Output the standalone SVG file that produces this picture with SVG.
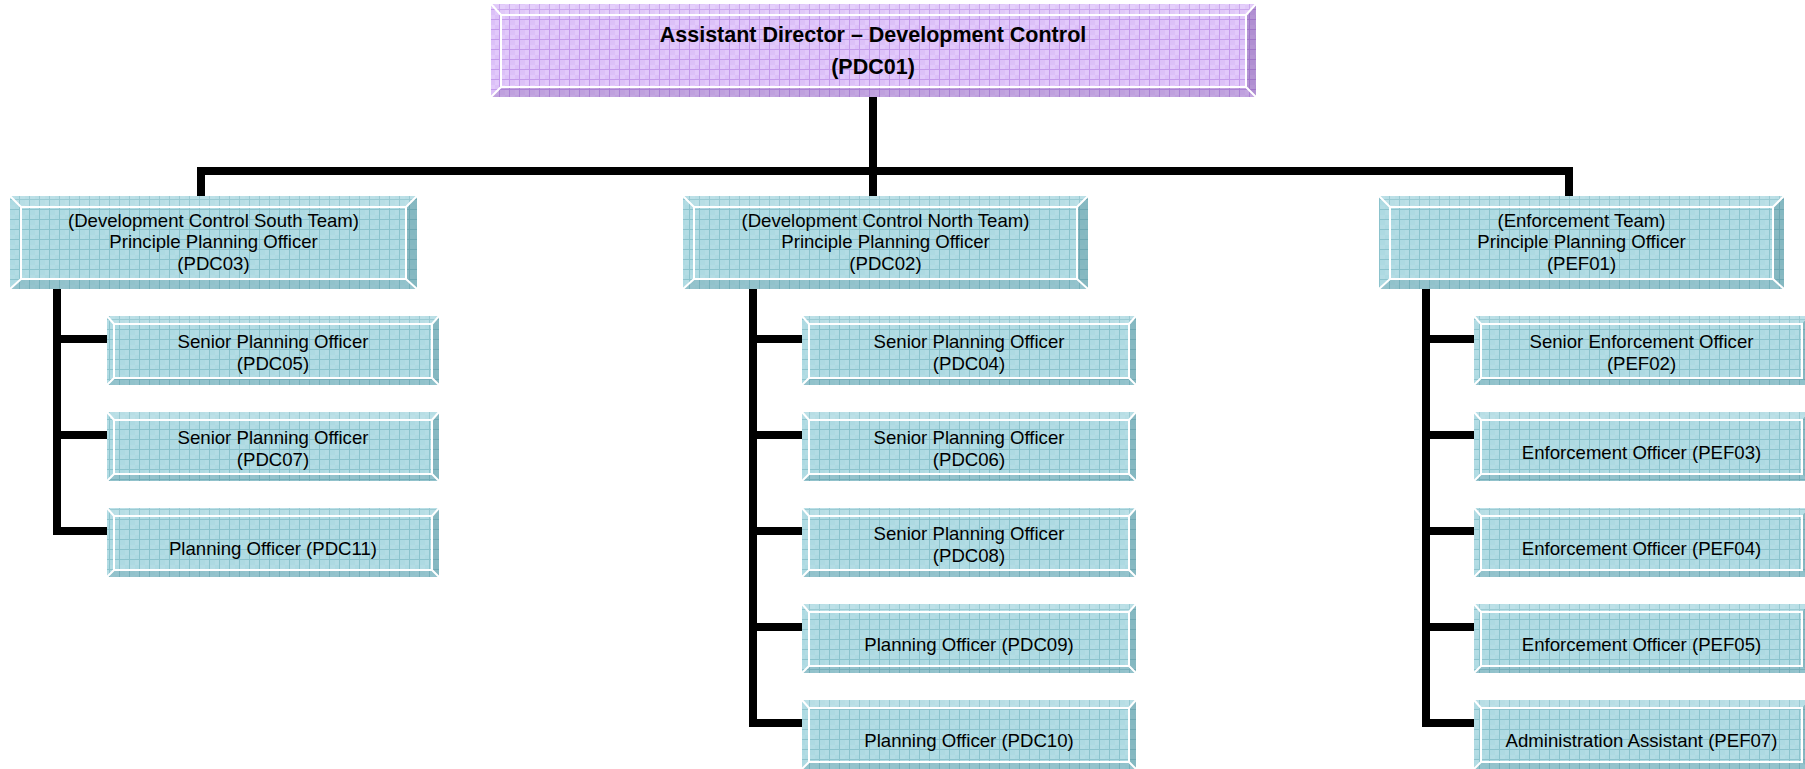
<svg xmlns="http://www.w3.org/2000/svg" width="1805" height="769" viewBox="0 0 1805 769">
<defs>
<pattern id="gridT" patternUnits="userSpaceOnUse" width="10" height="10">
<rect width="10" height="10" fill="#b3dce4"/>
<rect x="0" y="0" width="5" height="5" fill="#addae2"/>
<rect x="5" y="5" width="5" height="5" fill="#addae2"/>
<rect x="9" y="0" width="1" height="10" fill="#8cc3cd"/>
<rect x="0" y="9" width="10" height="1" fill="#8cc3cd"/>
</pattern>
<pattern id="gridP" patternUnits="userSpaceOnUse" width="10" height="10">
<rect width="10" height="10" fill="#e2c9fb"/>
<rect x="0" y="0" width="5" height="5" fill="#dcc1f8"/>
<rect x="5" y="5" width="5" height="5" fill="#dcc1f8"/>
<rect x="9" y="0" width="1" height="10" fill="#c49ceb"/>
<rect x="0" y="9" width="10" height="1" fill="#c49ceb"/>
</pattern>
<style>
.t .base{fill:url(#gridT);}
.p .base{fill:url(#gridP);}
.t .top{fill:#ffffff;opacity:0.12;}
.p .top{fill:#ffffff;opacity:0.12;}
.t .bot{fill:#2f6f7c;opacity:0.22;}
.p .bot{fill:#4b1f7a;opacity:0.2;}
.t .rgt{fill:#2f6f7c;opacity:0.32;}
.p .rgt{fill:#4b1f7a;opacity:0.3;}
.inner{fill:none;stroke:#ffffff;stroke-width:2;}
.diag{fill:none;stroke:#ffffff;stroke-width:2;}
text{font-family:"Liberation Sans",Arial,sans-serif;font-size:18.6px;fill:#000;text-anchor:middle;}
text.b{font-weight:bold;font-size:21.5px;}
.con{fill:none;stroke:#000;stroke-width:8;stroke-linejoin:miter;}
</style>
</defs>

<g id="connectors">
<path class="con" d="M873 97 V196"/>
<path class="con" d="M201 196 V171 H1569 V196"/>
<path class="con" d="M57 289 V531 H107 M57 339 H107 M57 435 H107"/>
<path class="con" d="M753 289 V723 H802 M753 339 H802 M753 435 H802 M753 531 H802 M753 627 H802"/>
<path class="con" d="M1426 289 V723 H1474 M1426 339 H1474 M1426 435 H1474 M1426 531 H1474 M1426 627 H1474"/>
</g>

<g id="n-pdc01" class="p">
<rect class="base" x="491" y="4" width="765" height="93"/>
<polygon class="top" points="491,4 1256,4 1246,15 501,15"/>
<polygon class="bot" points="491,97 1256,97 1246,87 501,87"/>
<polygon class="rgt" points="1256,4 1256,97 1246,87 1246,15"/>
<rect class="inner" x="501" y="15" width="745" height="72"/>
<path class="diag" d="M491 4 L501 15 M491 97 L501 87 M1256 4 L1246 15 M1256 97 L1246 87"/>
<text class="b" x="873" y="42">Assistant Director – Development Control</text>
<text class="b" x="873" y="74">(PDC01)</text>
</g>

<g id="n-pdc03" class="t">
<rect class="base" x="10" y="196" width="407" height="93"/>
<polygon class="top" points="10,196 417,196 406,207 21,207"/>
<polygon class="bot" points="10,289 417,289 406,279 21,279"/>
<polygon class="rgt" points="417,196 417,289 406,279 406,207"/>
<rect class="inner" x="21" y="207" width="385" height="72"/>
<path class="diag" d="M10 196 L21 207 M10 289 L21 279 M417 196 L406 207 M417 289 L406 279"/>
<text x="213.5" y="226.5">(Development Control South Team)</text>
<text x="213.5" y="248">Principle Planning Officer</text>
<text x="213.5" y="269.5">(PDC03)</text>
</g>

<g id="n-pdc02" class="t">
<rect class="base" x="683" y="196" width="405" height="93"/>
<polygon class="top" points="683,196 1088,196 1077,207 694,207"/>
<polygon class="bot" points="683,289 1088,289 1077,279 694,279"/>
<polygon class="rgt" points="1088,196 1088,289 1077,279 1077,207"/>
<rect class="inner" x="694" y="207" width="383" height="72"/>
<path class="diag" d="M683 196 L694 207 M683 289 L694 279 M1088 196 L1077 207 M1088 289 L1077 279"/>
<text x="885.5" y="226.5">(Development Control North Team)</text>
<text x="885.5" y="248">Principle Planning Officer</text>
<text x="885.5" y="269.5">(PDC02)</text>
</g>

<g id="n-pef01" class="t">
<rect class="base" x="1379" y="196" width="405" height="93"/>
<polygon class="top" points="1379,196 1784,196 1773,207 1390,207"/>
<polygon class="bot" points="1379,289 1784,289 1773,279 1390,279"/>
<polygon class="rgt" points="1784,196 1784,289 1773,279 1773,207"/>
<rect class="inner" x="1390" y="207" width="383" height="72"/>
<path class="diag" d="M1379 196 L1390 207 M1379 289 L1390 279 M1784 196 L1773 207 M1784 289 L1773 279"/>
<text x="1581.5" y="226.5">(Enforcement Team)</text>
<text x="1581.5" y="248">Principle Planning Officer</text>
<text x="1581.5" y="269.5">(PEF01)</text>
</g>

<g id="n-pdc05" class="t">
<rect class="base" x="107" y="316" width="332" height="69"/>
<polygon class="top" points="107,316 439,316 432,324 114,324"/>
<polygon class="bot" points="107,385 439,385 432,378 114,378"/>
<polygon class="rgt" points="439,316 439,385 432,378 432,324"/>
<rect class="inner" x="114" y="324" width="318" height="54"/>
<path class="diag" d="M107 316 L114 324 M107 385 L114 378 M439 316 L432 324 M439 385 L432 378"/>
<text x="273" y="348">Senior Planning Officer</text>
<text x="273" y="369.5">(PDC05)</text>
</g>
<g id="n-pdc07" class="t">
<rect class="base" x="107" y="412" width="332" height="69"/>
<polygon class="top" points="107,412 439,412 432,420 114,420"/>
<polygon class="bot" points="107,481 439,481 432,474 114,474"/>
<polygon class="rgt" points="439,412 439,481 432,474 432,420"/>
<rect class="inner" x="114" y="420" width="318" height="54"/>
<path class="diag" d="M107 412 L114 420 M107 481 L114 474 M439 412 L432 420 M439 481 L432 474"/>
<text x="273" y="444">Senior Planning Officer</text>
<text x="273" y="465.5">(PDC07)</text>
</g>
<g id="n-pdc11" class="t">
<rect class="base" x="107" y="508" width="332" height="69"/>
<polygon class="top" points="107,508 439,508 432,516 114,516"/>
<polygon class="bot" points="107,577 439,577 432,570 114,570"/>
<polygon class="rgt" points="439,508 439,577 432,570 432,516"/>
<rect class="inner" x="114" y="516" width="318" height="54"/>
<path class="diag" d="M107 508 L114 516 M107 577 L114 570 M439 508 L432 516 M439 577 L432 570"/>
<text x="273" y="555">Planning Officer (PDC11)</text>
</g>

<g id="n-pdc04" class="t">
<rect class="base" x="802" y="316" width="334" height="69"/>
<polygon class="top" points="802,316 1136,316 1129,324 809,324"/>
<polygon class="bot" points="802,385 1136,385 1129,378 809,378"/>
<polygon class="rgt" points="1136,316 1136,385 1129,378 1129,324"/>
<rect class="inner" x="809" y="324" width="320" height="54"/>
<path class="diag" d="M802 316 L809 324 M802 385 L809 378 M1136 316 L1129 324 M1136 385 L1129 378"/>
<text x="969" y="348">Senior Planning Officer</text>
<text x="969" y="369.5">(PDC04)</text>
</g>
<g id="n-pdc06" class="t">
<rect class="base" x="802" y="412" width="334" height="69"/>
<polygon class="top" points="802,412 1136,412 1129,420 809,420"/>
<polygon class="bot" points="802,481 1136,481 1129,474 809,474"/>
<polygon class="rgt" points="1136,412 1136,481 1129,474 1129,420"/>
<rect class="inner" x="809" y="420" width="320" height="54"/>
<path class="diag" d="M802 412 L809 420 M802 481 L809 474 M1136 412 L1129 420 M1136 481 L1129 474"/>
<text x="969" y="444">Senior Planning Officer</text>
<text x="969" y="465.5">(PDC06)</text>
</g>
<g id="n-pdc08" class="t">
<rect class="base" x="802" y="508" width="334" height="69"/>
<polygon class="top" points="802,508 1136,508 1129,516 809,516"/>
<polygon class="bot" points="802,577 1136,577 1129,570 809,570"/>
<polygon class="rgt" points="1136,508 1136,577 1129,570 1129,516"/>
<rect class="inner" x="809" y="516" width="320" height="54"/>
<path class="diag" d="M802 508 L809 516 M802 577 L809 570 M1136 508 L1129 516 M1136 577 L1129 570"/>
<text x="969" y="540">Senior Planning Officer</text>
<text x="969" y="561.5">(PDC08)</text>
</g>
<g id="n-pdc09" class="t">
<rect class="base" x="802" y="604" width="334" height="69"/>
<polygon class="top" points="802,604 1136,604 1129,612 809,612"/>
<polygon class="bot" points="802,673 1136,673 1129,666 809,666"/>
<polygon class="rgt" points="1136,604 1136,673 1129,666 1129,612"/>
<rect class="inner" x="809" y="612" width="320" height="54"/>
<path class="diag" d="M802 604 L809 612 M802 673 L809 666 M1136 604 L1129 612 M1136 673 L1129 666"/>
<text x="969" y="651">Planning Officer (PDC09)</text>
</g>
<g id="n-pdc10" class="t">
<rect class="base" x="802" y="700" width="334" height="69"/>
<polygon class="top" points="802,700 1136,700 1129,708 809,708"/>
<polygon class="bot" points="802,769 1136,769 1129,762 809,762"/>
<polygon class="rgt" points="1136,700 1136,769 1129,762 1129,708"/>
<rect class="inner" x="809" y="708" width="320" height="54"/>
<path class="diag" d="M802 700 L809 708 M802 769 L809 762 M1136 700 L1129 708 M1136 769 L1129 762"/>
<text x="969" y="747">Planning Officer (PDC10)</text>
</g>

<g id="n-pef02" class="t">
<rect class="base" x="1474" y="316" width="335" height="69"/>
<polygon class="top" points="1474,316 1809,316 1802,324 1481,324"/>
<polygon class="bot" points="1474,385 1809,385 1802,378 1481,378"/>
<polygon class="rgt" points="1809,316 1809,385 1802,378 1802,324"/>
<rect class="inner" x="1481" y="324" width="321" height="54"/>
<path class="diag" d="M1474 316 L1481 324 M1474 385 L1481 378"/>
<text x="1641.5" y="348">Senior Enforcement Officer</text>
<text x="1641.5" y="369.5">(PEF02)</text>
</g>
<g id="n-pef03" class="t">
<rect class="base" x="1474" y="412" width="335" height="69"/>
<polygon class="top" points="1474,412 1809,412 1802,420 1481,420"/>
<polygon class="bot" points="1474,481 1809,481 1802,474 1481,474"/>
<polygon class="rgt" points="1809,412 1809,481 1802,474 1802,420"/>
<rect class="inner" x="1481" y="420" width="321" height="54"/>
<path class="diag" d="M1474 412 L1481 420 M1474 481 L1481 474"/>
<text x="1641.5" y="459">Enforcement Officer (PEF03)</text>
</g>
<g id="n-pef04" class="t">
<rect class="base" x="1474" y="508" width="335" height="69"/>
<polygon class="top" points="1474,508 1809,508 1802,516 1481,516"/>
<polygon class="bot" points="1474,577 1809,577 1802,570 1481,570"/>
<polygon class="rgt" points="1809,508 1809,577 1802,570 1802,516"/>
<rect class="inner" x="1481" y="516" width="321" height="54"/>
<path class="diag" d="M1474 508 L1481 516 M1474 577 L1481 570"/>
<text x="1641.5" y="555">Enforcement Officer (PEF04)</text>
</g>
<g id="n-pef05" class="t">
<rect class="base" x="1474" y="604" width="335" height="69"/>
<polygon class="top" points="1474,604 1809,604 1802,612 1481,612"/>
<polygon class="bot" points="1474,673 1809,673 1802,666 1481,666"/>
<polygon class="rgt" points="1809,604 1809,673 1802,666 1802,612"/>
<rect class="inner" x="1481" y="612" width="321" height="54"/>
<path class="diag" d="M1474 604 L1481 612 M1474 673 L1481 666"/>
<text x="1641.5" y="651">Enforcement Officer (PEF05)</text>
</g>
<g id="n-pef07" class="t">
<rect class="base" x="1474" y="700" width="335" height="69"/>
<polygon class="top" points="1474,700 1809,700 1802,708 1481,708"/>
<polygon class="bot" points="1474,769 1809,769 1802,762 1481,762"/>
<polygon class="rgt" points="1809,700 1809,769 1802,762 1802,708"/>
<rect class="inner" x="1481" y="708" width="321" height="54"/>
<path class="diag" d="M1474 700 L1481 708 M1474 769 L1481 762"/>
<text x="1641.5" y="747">Administration Assistant (PEF07)</text>
</g>
</svg>
